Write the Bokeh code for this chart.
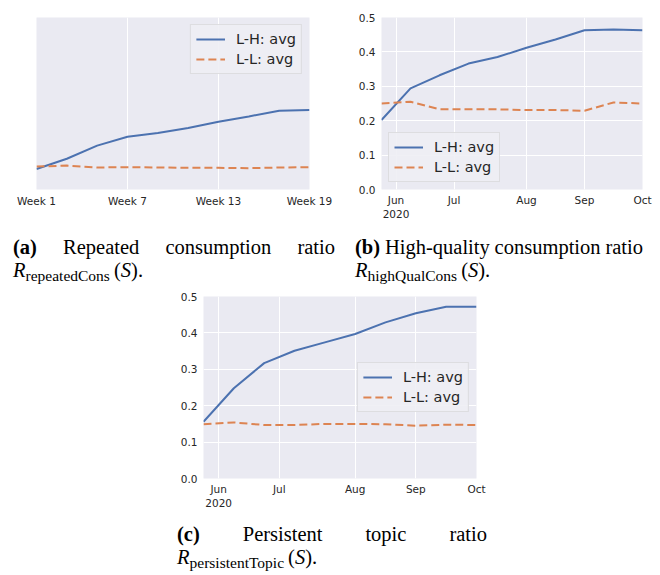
from bokeh.plotting import figure
from bokeh.layouts import column, row
from bokeh.models import Div, Spacer, FixedTicker, Legend, LegendItem, Range1d
from bokeh.embed import file_html
from bokeh.resources import INLINE

# ---------------- data ----------------
# (a) weekly index, values on an unlabeled scale
weeks_a = [1, 3, 5, 7, 9, 11, 13, 15, 17, 19]
a_lh = [0.119, 0.179, 0.255, 0.307, 0.328, 0.358, 0.394, 0.425, 0.458, 0.462]
a_ll = [0.133, 0.139, 0.128, 0.130, 0.128, 0.126, 0.126, 0.124, 0.128, 0.130]
a_ticks = [1, 7, 13, 19]
a_tick_labels = ["Week 1", "Week 7", "Week 13", "Week 19"]

# (b), (c) week index since the last week of May 2020
weeks_bc = [0, 2, 4, 6, 8, 10, 12, 14, 16, 18]
b_lh = [0.202, 0.294, 0.332, 0.366, 0.385, 0.412, 0.436, 0.463, 0.465, 0.463]
b_ll = [0.250, 0.255, 0.233, 0.233, 0.233, 0.231, 0.231, 0.229, 0.253, 0.250]
c_lh = [0.156, 0.248, 0.317, 0.351, 0.374, 0.397, 0.429, 0.454, 0.472, 0.472]
c_ll = [0.149, 0.154, 0.147, 0.147, 0.150, 0.150, 0.149, 0.145, 0.148, 0.147]
month_ticks = [1, 5, 10, 14, 18]
month_labels = ["Jun\n2020", "Jul", "Aug", "Sep", "Oct"]
y_ticks = [0.0, 0.1, 0.2, 0.3, 0.4, 0.5]
y_labels = ["0.0", "0.1", "0.2", "0.3", "0.4", "0.5"]
series_names = ["L-H: avg", "L-L: avg"]

captions = {
    "a": (["(a)", "Repeated", "consumption", "ratio"], "repeatedCons"),
    "b": (["(b)", "High-quality", "consumption", "ratio"], "highQualCons"),
    "c": (["(c)", "Persistent", "topic", "ratio"], "persistentTopic"),
}

BLUE = "#4c72b0"
ORANGE = "#dd8452"
BG = "#eaeaf2"
TXT = "#262626"
FONT = "DejaVu Sans"


def make_fig(w, h, xr, yr, bl, br, bt, bb):
    p = figure(width=w, height=h, x_range=Range1d(*xr), y_range=Range1d(*yr),
               output_backend="svg", toolbar_location=None,
               min_border_left=bl, min_border_right=br,
               min_border_top=bt, min_border_bottom=bb)
    p.background_fill_color = BG
    p.border_fill_color = "white"
    p.outline_line_color = None
    for ax in (p.xaxis, p.yaxis):
        ax.axis_line_color = None
        ax.major_tick_line_color = None
        ax.minor_tick_line_color = None
        ax.major_tick_out = 0
        ax.major_tick_in = 0
        ax.major_label_text_font = FONT
        ax.major_label_text_color = TXT
        ax.major_label_text_font_size = "10.5px"
    p.xgrid.grid_line_color = "white"
    p.ygrid.grid_line_color = "white"
    p.xgrid.grid_line_width = 1
    p.ygrid.grid_line_width = 1
    return p


def add_lines(p, xs, lh, ll, loc):
    r1 = p.line(xs, lh, line_color=BLUE, line_width=2)
    r2 = p.line(xs, ll, line_color=ORANGE, line_width=2, line_dash="8 4")
    leg = Legend(items=[LegendItem(label=series_names[0], renderers=[r1]),
                        LegendItem(label=series_names[1], renderers=[r2])],
                 location=loc)
    leg.margin = 7
    leg.padding = 5
    leg.spacing = 2
    leg.glyph_width = 29
    leg.glyph_height = 18
    leg.label_height = 18
    leg.label_standoff = 11
    leg.label_text_font = FONT
    leg.label_text_font_size = "14.5px"
    leg.label_text_color = TXT
    leg.background_fill_color = "#eeeef4"
    leg.background_fill_alpha = 0.9
    leg.border_line_color = "#cccccc"
    leg.border_line_width = 1
    p.add_layout(leg)
    return p


# (a)
pa = make_fig(332, 221, (1, 19), (0, 1), 28, 31, 9, 30)
pa.xaxis.ticker = FixedTicker(ticks=a_ticks)
pa.xaxis.major_label_overrides = dict(zip(a_ticks, a_tick_labels))
pa.xaxis.major_label_standoff = 5
pa.yaxis.visible = False
pa.ygrid.grid_line_color = None
add_lines(pa, weeks_a, a_lh, a_ll, "top_right")

# (b)
pb = make_fig(318, 221, (0, 18), (0, 0.5), 41, 16, 7, 40)
pb.xaxis.ticker = FixedTicker(ticks=month_ticks)
pb.xaxis.major_label_overrides = dict(zip(month_ticks, month_labels))
pb.yaxis.ticker = FixedTicker(ticks=y_ticks)
pb.yaxis.major_label_overrides = dict(zip(y_ticks, y_labels))
pb.xaxis.major_label_standoff = 4
pb.yaxis.major_label_standoff = 6
add_lines(pb, weeks_bc, b_lh, b_ll, "bottom_left")

# (c)
pc = make_fig(328, 233, (0, 18), (0, 0.5), 45, 10, 11, 40)
pc.xaxis.ticker = FixedTicker(ticks=month_ticks)
pc.xaxis.major_label_overrides = dict(zip(month_ticks, month_labels))
pc.yaxis.ticker = FixedTicker(ticks=y_ticks)
pc.yaxis.major_label_overrides = dict(zip(y_ticks, y_labels))
pc.xaxis.major_label_standoff = 4
pc.yaxis.major_label_standoff = 6
add_lines(pc, weeks_bc, c_lh, c_ll, "center_right")

CAP = ("font-family:'Liberation Serif',serif; font-size:20.5px; line-height:23px; "
       "color:#000;")


def caption(key, pad_top, pad_left, line_w):
    words, sub = captions[key]
    spans = "".join(
        (f"<b>{w}</b>" if i == 0 else f"<span>{w}</span>") for i, w in enumerate(words))
    return (f"<div style=\"{CAP} padding:{pad_top}px 0 0 {pad_left}px;\">"
            f"<div style=\"display:flex; justify-content:space-between; width:{line_w}px; "
            f"white-space:nowrap;\">{spans}</div>"
            f"<div style=\"white-space:nowrap;\"><i>R</i><span style=\"font-size:15.5px; "
            f"position:relative; top:4px;\">{sub}</span>&thinsp;(<i>S</i>).</div></div>")


da = Div(text=caption("a", 7, 5, 322), width=332, height=56, margin=0)
db = Div(text=caption("b", 7, 15, 288), width=318, height=56, margin=0)
dc = Div(text=caption("c", 5, 19, 310), width=340, height=49, margin=0)

inner = column(
    row(pa, pb),
    row(da, db),
    row(Spacer(width=150, height=233), pc),
    row(Spacer(width=150, height=49), dc),
)
layout = column(Spacer(width=10, height=8), row(Spacer(width=8, height=10), inner))

open("out.html", "w").write(file_html(layout, INLINE))
